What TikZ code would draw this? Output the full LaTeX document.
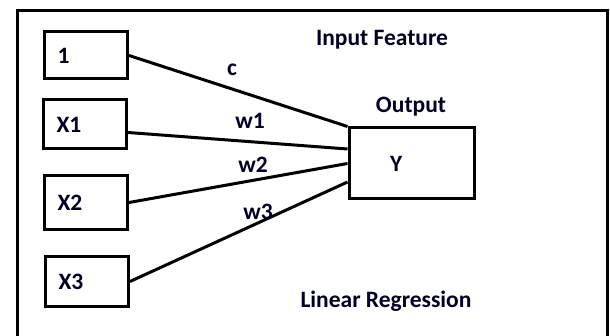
\documentclass[tikz,border=0pt]{standalone}
\usepackage{fontspec}
\setmainfont{Carlito}
\usetikzlibrary{positioning}

\begin{document}
\begin{tikzpicture}
	[x=1pt,y=-1pt,
	every node/.style={font=\bfseries\fontsize{23.5}{28}\selectfont,text=black!85!blue},
	feature/.style={draw,line width=3pt,text width=57pt,inner xsep=13pt,minimum height=47pt,align=left},
	weight/.style={line width=3pt}]
	\useasboundingbox (0,0) rectangle (610,336);
	\fill[white] (0,0) rectangle (610,336);
	% outer frame, its bottom edge runs off the page
	\draw[line width=3pt] (17,345) -- (17,11) -- (607,11) -- (607,345);
	% inputs
	\node[feature] (bias) at (86,55.5) {1};
	\node[feature,minimum height=49pt] (in1) at (85,124.5) {X1};
	\node[feature,minimum height=54pt] (in2) at (86,202.5) {X2};
	\node[feature,minimum height=50pt] (in3) at (87,281.5) {X3};
	% output
	\node[draw,line width=3pt,text width=43pt,inner xsep=41pt,minimum height=71pt,align=left] (out) at (411.5,163.5) {Y};
	% weights
	\draw[weight] (bias.east) -- (out.north west);
	\draw[weight] ([yshift=-8pt]in1.east) -- ([yshift=14.5pt]out.west);
	\draw[weight] (in2.east) -- (out.west);
	\draw[weight] (in3.east) -- ([yshift=-18.5pt]out.west);
	\node (c) at (232,70) {c};
	\node (w1) at (250,121) {w1};
	\node (w2) at (253,165) {w2};
	\node (w3) at (258,212) {w3};
	% captions
	\node (feat) at (382,40) {Input Feature};
	\node (outlabel) at (411,107) {Output};
	\node (model) at (386,301) {Linear Regression};
\end{tikzpicture}
\end{document}
